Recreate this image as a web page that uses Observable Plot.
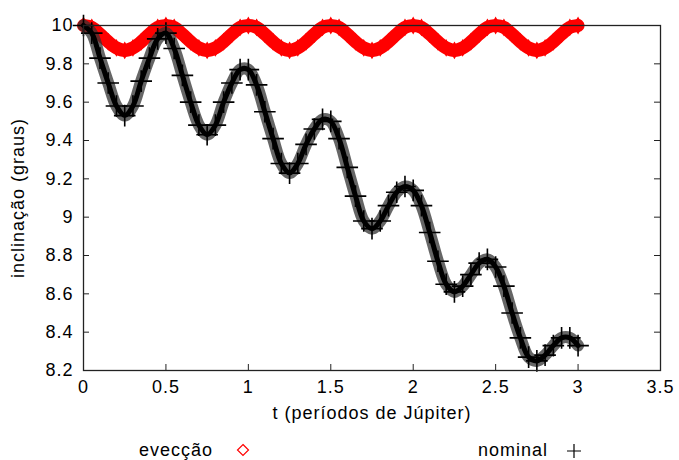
<!DOCTYPE html>
<html>
<head>
<meta charset="utf-8">
<script src="https://cdn.jsdelivr.net/npm/d3@7"></script>
<script src="https://cdn.jsdelivr.net/npm/@observablehq/plot@0.6"></script>
<style>
  body { margin: 0; background: #fff; font-family: "Liberation Sans", Arial, sans-serif; }
  #wrap { position: relative; width: 679px; height: 460px; overflow: hidden; }
  .key { position: absolute; top: 441px; font-size: 18px; letter-spacing: 1px; color: #000; line-height: 18px; white-space: nowrap; }
  .key svg { position: absolute; top: 2px; }
</style>
</head>
<body>
<div id="wrap">
  <div id="chart"></div>
  <div class="key" style="left:139px;">evecção<svg style="left:97px" width="14" height="14"><path d="M7 1.5 L12.5 7 L7 12.5 L1.5 7 Z" fill="none" stroke="#ff0000" stroke-width="1.2"/></svg></div>
  <div class="key" style="left:478px;">nominal<svg style="left:88px" width="16" height="16"><path d="M8 1 V15 M1 8 H15" fill="none" stroke="#000" stroke-width="1.2"/></svg></div>
</div>
<script>
// time in Jupiter periods
const times = [
  0.00, 0.05, 0.10, 0.15, 0.20, 0.25, 0.30, 0.35, 0.40, 0.45,
  0.50, 0.55, 0.60, 0.65, 0.70, 0.75, 0.80, 0.85, 0.90, 0.95,
  1.00, 1.05, 1.10, 1.15, 1.20, 1.25, 1.30, 1.35, 1.40, 1.45,
  1.50, 1.55, 1.60, 1.65, 1.70, 1.75, 1.80, 1.85, 1.90, 1.95,
  2.00, 2.05, 2.10, 2.15, 2.20, 2.25, 2.30, 2.35, 2.40, 2.45,
  2.50, 2.55, 2.60, 2.65, 2.70, 2.75, 2.80, 2.85, 2.90, 2.95,
  3.00
];

// inclination (degrees), evection run
const evection = [
  10.00, 9.99, 9.955, 9.915, 9.883, 9.87, 9.883, 9.915, 9.955, 9.99,
  10.00, 9.99, 9.955, 9.915, 9.883, 9.87, 9.883, 9.915, 9.955, 9.99,
  10.00, 9.99, 9.955, 9.915, 9.883, 9.87, 9.883, 9.915, 9.955, 9.99,
  10.00, 9.99, 9.955, 9.915, 9.883, 9.87, 9.883, 9.915, 9.955, 9.99,
  10.00, 9.99, 9.955, 9.915, 9.883, 9.87, 9.883, 9.915, 9.955, 9.99,
  10.00, 9.99, 9.955, 9.915, 9.883, 9.87, 9.883, 9.915, 9.955, 9.99,
  10.00
];

// inclination (degrees), nominal run
const nominal = [
  10.00, 9.96, 9.83, 9.70, 9.58, 9.53, 9.58, 9.71, 9.83, 9.93,
  9.96, 9.88, 9.74, 9.60, 9.48, 9.43, 9.48, 9.60, 9.70, 9.77,
  9.77, 9.69, 9.55, 9.41, 9.28, 9.23, 9.28, 9.38, 9.46, 9.51,
  9.50, 9.41, 9.26, 9.11, 8.98, 8.94, 8.98, 9.06, 9.13, 9.16,
  9.14, 9.06, 8.92, 8.77, 8.65, 8.61, 8.64, 8.70, 8.76, 8.78,
  8.74, 8.64, 8.50, 8.37, 8.27, 8.25, 8.28, 8.33, 8.37, 8.37,
  8.33
];

const xTicks = [0, 0.5, 1, 1.5, 2, 2.5, 3, 3.5];
const yTicks = [8.2, 8.4, 8.6, 8.8, 9, 9.2, 9.4, 9.6, 9.8, 10];

const evecRows = times.map((t, i) => ({t, v: evection[i]}));
const nomRows = times.map((t, i) => ({t, v: nominal[i]}));

const W = 679, H = 430;
const M = {top: 25, right: 19, bottom: 60, left: 83};
const plotW = W - M.left - M.right;
const plotH = H - M.top - M.bottom;
const tick = 6;
const fmt = d3.format("~g");
const axisColor = "#222";

const chart = Plot.plot({
  width: W,
  height: H,
  marginTop: M.top,
  marginRight: M.right,
  marginBottom: M.bottom,
  marginLeft: M.left,
  style: {fontFamily: "'Liberation Sans', Arial, sans-serif", fontSize: "18px", letterSpacing: "1px", color: "#000", background: "#fff"},
  x: {domain: [0, 3.5]},
  y: {domain: [8.2, 10]},
  marks: [
    // inward ticks on all four sides
    Plot.gridY(yTicks, {stroke: axisColor, strokeOpacity: 1, insetRight: plotW - tick}),
    Plot.gridY(yTicks, {stroke: axisColor, strokeOpacity: 1, insetLeft: plotW - tick}),
    Plot.gridX(xTicks, {stroke: axisColor, strokeOpacity: 1, insetTop: plotH - tick}),
    Plot.gridX(xTicks, {stroke: axisColor, strokeOpacity: 1, insetBottom: plotH - tick}),
    Plot.axisX({ticks: xTicks, tickSize: 0, tickPadding: 10, tickFormat: fmt,
      label: "t (períodos de Júpiter)", labelAnchor: "center", labelArrow: "none", labelOffset: 48}),
    Plot.axisY({ticks: yTicks, tickSize: 0, tickPadding: 10, tickFormat: fmt,
      label: "inclinação (graus)", labelAnchor: "center", labelArrow: "none", labelOffset: 72}),
    // evection run: dense red diamonds forming a solid band
    Plot.line(evecRows, {x: "t", y: "v", stroke: "#ff0000", strokeWidth: 13, curve: "catmull-rom"}),
    Plot.dot(evecRows, {x: "t", y: "v", symbol: "diamond", r: 4.5, stroke: "#ff0000", fill: "#ff0000"}),
    // nominal run: dense black plus signs
    Plot.line(nomRows, {x: "t", y: "v", stroke: "#333", strokeOpacity: 0.75, strokeWidth: 12, curve: "catmull-rom"}),
    Plot.line(nomRows, {x: "t", y: "v", stroke: "#000", strokeWidth: 5, curve: "catmull-rom"}),
    Plot.dot(nomRows, {x: "t", y: "v", symbol: "plus", r: 7, stroke: "#000", strokeWidth: 1.6}),
    Plot.frame({stroke: axisColor, strokeWidth: 1.3})
  ]
});

document.getElementById("chart").appendChild(chart);
</script>
</body>
</html>
